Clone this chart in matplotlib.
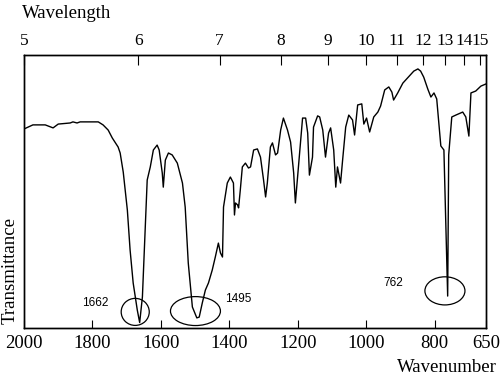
import matplotlib
matplotlib.use("Agg")
import matplotlib.pyplot as plt
from matplotlib.patches import Ellipse

# IR spectrum (wavenumber in cm-1, transmittance in %)
wavenumber = [2000, 1974, 1938, 1915, 1900, 1865, 1857, 1845, 1836, 1783,
              1769, 1754, 1742, 1725, 1719, 1710, 1698, 1690, 1681, 1669,
              1662, 1654, 1646, 1640, 1631, 1622, 1611, 1605, 1596, 1593,
              1587, 1578, 1567, 1552, 1537, 1529, 1520, 1508, 1495, 1488,
              1479, 1470, 1461, 1450, 1441, 1432, 1426, 1420, 1417, 1406,
              1397, 1388, 1385, 1382, 1376, 1373, 1368, 1362, 1353, 1344,
              1338, 1329, 1318, 1309, 1300, 1294, 1289, 1280, 1274, 1265,
              1259, 1250, 1242, 1230, 1221, 1212, 1207, 1198, 1192, 1186,
              1177, 1171, 1166, 1157, 1154, 1142, 1136, 1127, 1119, 1110,
              1104, 1095, 1089, 1084, 1075, 1069, 1060, 1051, 1040, 1034,
              1025, 1013, 1007, 999, 990, 978, 966, 958, 946, 934,
              925, 920, 908, 893, 879, 861, 849, 841, 832, 820,
              811, 802, 794, 788, 782, 773, 762, 759, 750, 738,
              718, 709, 700, 694, 680, 665, 650]
transmittance = [72.9, 74.4, 74.4, 73.3, 74.7, 75.1, 75.5, 75.1, 75.5, 75.5,
                 74.4, 72.5, 69.6, 66.3, 64.1, 57.1, 43.2, 28.6, 16.5, 6.6,
                 2.0, 11.4, 35.9, 54.2, 59.0, 65.2, 67.0, 65.2, 56.8, 51.6,
                 61.5, 64.1, 63.4, 60.4, 53.1, 44.3, 23.8, 7.7, 3.7, 4.0,
                 9.2, 13.9, 16.5, 21.2, 26.0, 31.1, 27.5, 26.0, 44.3, 53.1,
                 55.3, 53.1, 41.4, 45.8, 45.1, 44.0, 50.5, 59.0, 60.4, 58.6,
                 59.0, 65.2, 65.6, 62.6, 54.2, 48.0, 53.1, 66.3, 67.8, 63.4,
                 64.1, 72.5, 76.9, 72.5, 68.1, 56.8, 45.8, 59.0, 67.8, 76.9,
                 76.9, 71.4, 56.0, 62.6, 73.6, 77.7, 77.3, 72.5, 62.6, 71.4,
                 73.3, 65.2, 51.6, 59.0, 53.1, 61.5, 73.6, 78.0, 76.2, 70.7,
                 81.7, 82.1, 74.7, 76.9, 71.8, 77.3, 79.1, 81.3, 87.2, 88.3,
                 86.4, 83.5, 86.1, 89.7, 91.6, 94.1, 94.9, 94.1, 91.9, 87.5,
                 84.6, 86.1, 83.9, 75.5, 66.7, 65.2, 11.7, 63.4, 77.3, 78.0,
                 79.1, 77.3, 70.3, 86.1, 86.8, 88.6, 89.4]

bottom_ticks = [2000, 1800, 1600, 1400, 1200, 1000, 800, 650]
wavelengths = [5, 6, 7, 8, 9, 10, 11, 12, 13, 14, 15]

marked_peaks = [1662, 1495, 762]
marked_T = [2.0, 3.7, 11.7]

serif = "Liberation Serif"
sans = "Liberation Sans"

fig = plt.figure(figsize=(5.02, 3.86), dpi=100)
ax = fig.add_axes([24 / 502, 58 / 386, 462 / 502, 273 / 386])

ax.plot(wavenumber, transmittance, color="black", lw=1.0)
ax.set_xlim(2000, 650)
ax.set_ylim(0, 100)

ax.set_xticks(bottom_ticks)
ax.set_xticklabels([str(t) for t in bottom_ticks], family=serif, fontsize=13.5)
ax.set_yticks([])
ax.tick_params(axis="x", direction="in", length=6, pad=5)

top = ax.twiny()
top.set_xlim(ax.get_xlim())
top.set_xticks([1e4 / w for w in wavelengths])
top.set_xticklabels([str(w) for w in wavelengths], family=serif, fontsize=12.5)
top.tick_params(axis="x", direction="in", length=7, pad=4)

for a in (ax, top):
    for s in a.spines.values():
        s.set_linewidth(1.0)

# circled peaks
ell_off = [(13, 3.9, 82, 9.9), (4, 2.5, 146, 10.6), (8, 1.9, 117, 10.3)]
lab_off = [(130, 7.2), (-122, 6.9), (160, 4.8)]
for pk, tv, (dx, dy, w, h), (lx, ly) in zip(marked_peaks, marked_T, ell_off, lab_off):
    ax.add_patch(Ellipse((pk + dx, tv + dy), w, h, fill=False, lw=0.9,
                         edgecolor="black"))
    ax.text(pk + lx, tv + ly, str(pk), family=sans, fontsize=8.5,
            ha="center", va="center")

fig.text(22 / 502, 1 - 14 / 386, "Wavelength", family=serif, fontsize=13.5,
         ha="left", va="center")
fig.text(497 / 502, 1 - 367 / 386, "Wavenumber", family=serif, fontsize=13.5,
         ha="right", va="center")
fig.text(10 / 502, 1 - 271 / 386, "Transmittance", family=serif, fontsize=13.5,
         rotation=90, ha="center", va="center")

fig.savefig("out.png", dpi=100)
